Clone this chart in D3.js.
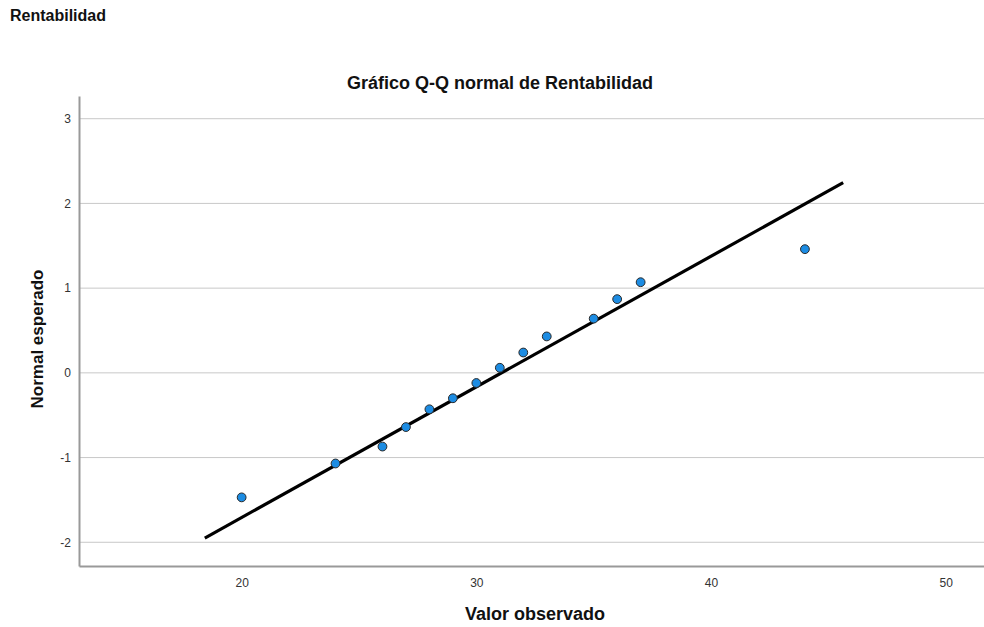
<!DOCTYPE html>
<html>
<head>
<meta charset="utf-8">
<script src="https://cdn.jsdelivr.net/npm/d3@7"></script>
<style>
  body { margin: 0; background: #fff; }
  svg { font-family: "Liberation Sans", Arial, sans-serif; }
</style>
</head>
<body>
<div id="chart"></div>
<script>
// Observed values and expected normal quantiles
const observed = [20, 24, 26, 27, 28, 29, 30, 31, 32, 33, 35, 36, 37, 44];
const expected = [-1.47, -1.07, -0.87, -0.64, -0.43, -0.30, -0.12, 0.06, 0.24, 0.43, 0.64, 0.87, 1.07, 1.46];

// Reference line endpoints
const lineX = [18.43, 45.63];
const lineY = [-1.95, 2.245];

const xTicks = [20, 30, 40, 50];
const yTicks = [-2, -1, 0, 1, 2, 3];

const width = 984, height = 627;
const margin = { top: 96, right: 0, bottom: 61, left: 79 };

const svg = d3.select("#chart")
    .append("svg")
    .attr("width", width)
    .attr("height", height);

const x = d3.scaleLinear()
    .domain([13.07, 51.63])
    .range([margin.left, width - margin.right]);

const y = d3.scaleLinear()
    .domain([-2.28, 3.268])
    .range([height - margin.bottom, margin.top]);

// Gridlines
svg.append("g")
    .selectAll("line")
    .data(yTicks)
    .enter().append("line")
    .attr("x1", margin.left)
    .attr("x2", width - margin.right)
    .attr("y1", d => y(d))
    .attr("y2", d => y(d))
    .attr("stroke", "#c8c8c8")
    .attr("stroke-width", 1);

// Axes (plain hyphen for negatives, like the original)
const fmt = d => String(d);

const xAxis = svg.append("g")
    .attr("transform", `translate(0,${height - margin.bottom})`)
    .call(d3.axisBottom(x).tickValues(xTicks).tickFormat(fmt).tickSize(0).tickPadding(12));

const yAxis = svg.append("g")
    .attr("transform", `translate(${margin.left},0)`)
    .call(d3.axisLeft(y).tickValues(yTicks).tickFormat(fmt).tickSize(0).tickPadding(8));

[xAxis, yAxis].forEach(a => {
    a.select(".domain").attr("stroke", "#999").attr("stroke-width", 2);
    a.selectAll("text")
        .style("font-size", "12px")
        .style("font-family", "'Liberation Sans', Arial, sans-serif")
        .style("fill", "#333");
});

// Reference line
svg.append("line")
    .attr("x1", x(lineX[0]))
    .attr("y1", y(lineY[0]))
    .attr("x2", x(lineX[1]))
    .attr("y2", y(lineY[1]))
    .attr("stroke", "#000")
    .attr("stroke-width", 3.2);

// Points
svg.append("g")
    .selectAll("circle")
    .data(observed)
    .enter().append("circle")
    .attr("cx", d => x(d))
    .attr("cy", (d, i) => y(expected[i]))
    .attr("r", 4.4)
    .attr("fill", "#1c8ce3")
    .attr("stroke", "#2a2a2a")
    .attr("stroke-width", 1);

// Titles
svg.append("text")
    .attr("x", 10)
    .attr("y", 21)
    .style("font-size", "16px")
    .style("font-weight", "bold")
    .style("fill", "#111")
    .text("Rentabilidad");

svg.append("text")
    .attr("x", 500)
    .attr("y", 89)
    .attr("text-anchor", "middle")
    .style("font-size", "18px")
    .style("font-weight", "bold")
    .style("fill", "#111")
    .text("Gráfico Q-Q normal de Rentabilidad");

svg.append("text")
    .attr("x", 535)
    .attr("y", 620)
    .attr("text-anchor", "middle")
    .style("font-size", "18px")
    .style("font-weight", "bold")
    .style("fill", "#111")
    .text("Valor observado");

svg.append("text")
    .attr("transform", "translate(43,339) rotate(-90)")
    .attr("text-anchor", "middle")
    .style("font-size", "17px")
    .style("font-weight", "bold")
    .style("fill", "#111")
    .text("Normal esperado");
</script>
</body>
</html>
